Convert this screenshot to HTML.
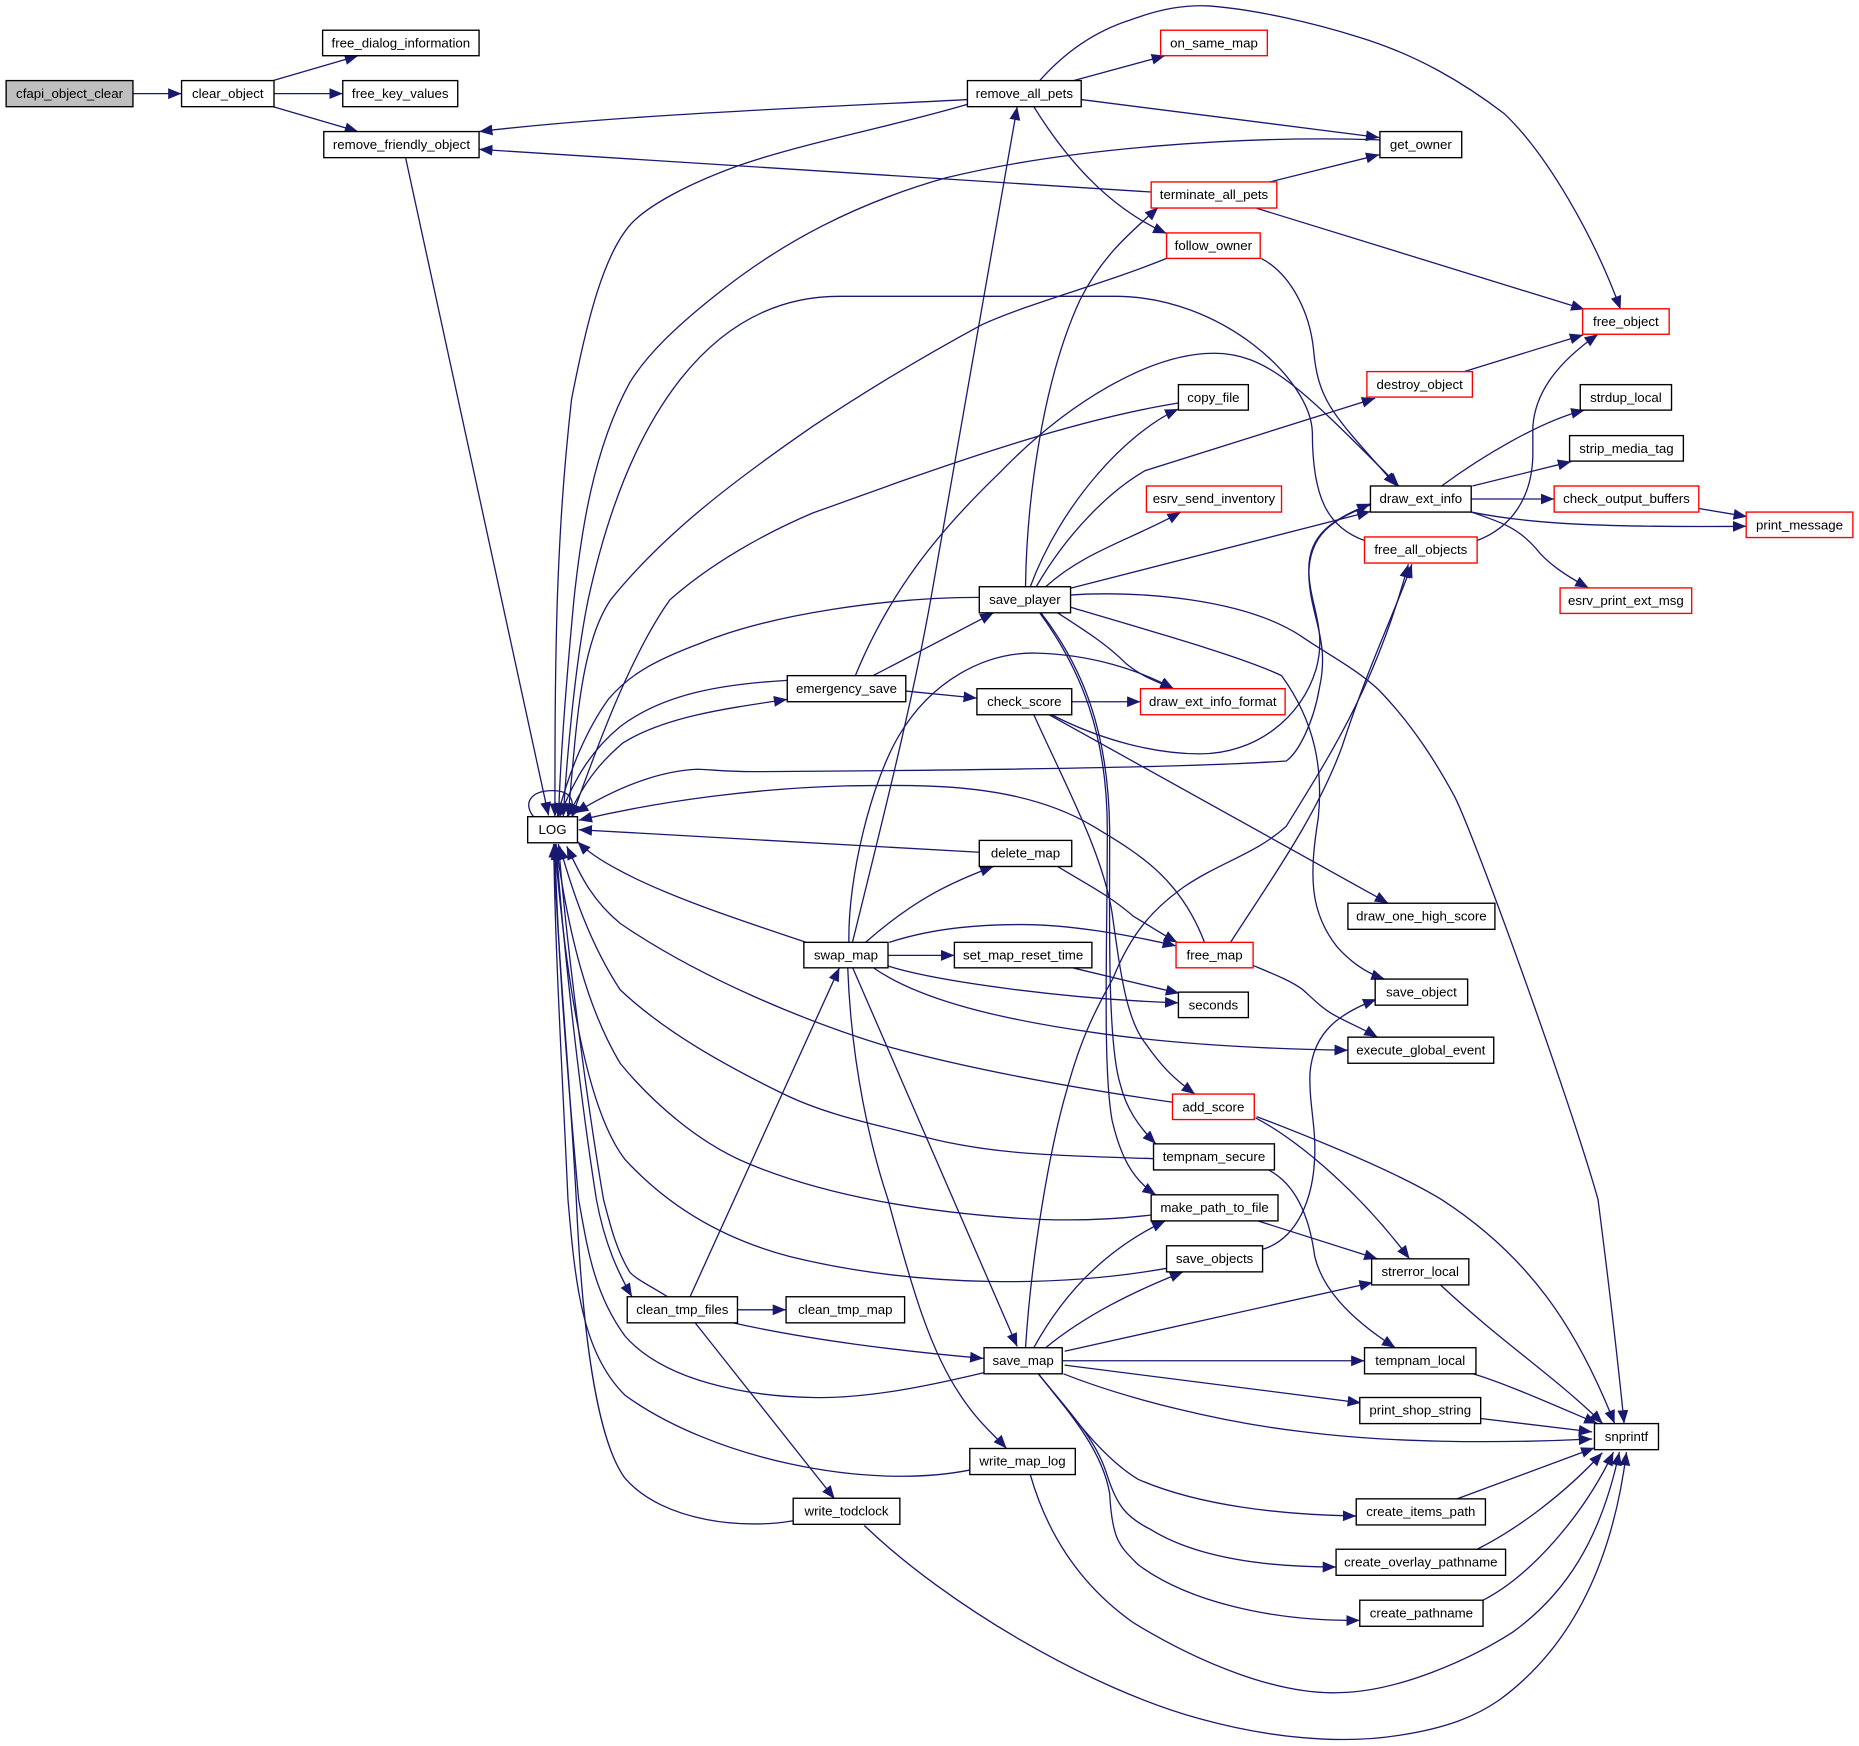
<!DOCTYPE html>
<html><head><meta charset="utf-8"><title>cfapi_object_clear call graph</title>
<style>
html,body{margin:0;padding:0;background:#fff}
svg{display:block}
text{font-family:"Liberation Sans",sans-serif;font-size:11.2px;text-anchor:middle;fill:#000}
rect{fill:#fff;stroke:#000;stroke-width:1.15}
rect.r{stroke:#f00}
rect.g{fill:#bfbfbf}
#e path{fill:none;stroke:#191970;stroke-width:1.1;marker-end:url(#a)}
</style></head><body>
<svg xmlns="http://www.w3.org/2000/svg" width="1859" height="1746" viewBox="0 0 1568 1473">
<defs><marker id="a" markerUnits="userSpaceOnUse" markerWidth="13" markerHeight="11" refX="11.3" refY="4.6" orient="auto"><path d="M0 0L11.3 4.6L0 9.2z" fill="#191970"/></marker></defs>
<rect x="0" y="0" width="1568" height="1473" style="fill:#fff;stroke:none"/>
<g id="e">
<path d="M112 79L153 79"/>
<path d="M230 68L302 47"/>
<path d="M231 79L289 79"/>
<path d="M230 90L302 111"/>
<path d="M342 133L462.6 688"/>
<path d="M816 84C700 90 520 97 404 111"/>
<path d="M971 162L404 126"/>
<path d="M1069 154L1163.5 130.5"/>
<path d="M1060 175.7L1336.6 261"/>
<path d="M912 84L1163.5 116"/>
<path d="M905.5 68L982.7 47"/>
<path d="M877 68C900 42 925 26 953 17C980 7 1000 4 1020 5C1060 8 1110 20 1145 31C1195 46 1235 70 1269 96C1305 130 1345 200 1367 261"/>
<path d="M872 90C900 135 935 175 984 197"/>
<path d="M816 88C760 105 680 120 625 139C580 155 550 172 535 186C510 210 495 270 482 337C475 400 472 450 470 506C468 570 468 630 468 689"/>
<path d="M1164 118C1050 114 900 125 798 150C720 172 660 205 610 244C570 275 545 300 531 323C500 380 490 450 484 506C478 570 473 630 471 689"/>
<path d="M1151 456C1120 445 1107 420 1107 365C1106 320 1030 250 941 250L708 250C600 250 530 350 496 506C485 560 478 640 475 689"/>
<path d="M984 218C930 240 870 255 828 274C780 300 730 330 685 360C620 405 560 450 515 506C488 546 486 620 479 689"/>
<path d="M994 340C900 355 790 395 685 433C645 450 600 475 565 506C530 555 500 640 482 690"/>
<path d="M1064 218C1090 232 1105 265 1108 295C1112 340 1125 350 1178 410"/>
<path d="M721 571C750 500 790 450 843 399C900 340 970 298 1024 298C1070 298 1100 330 1180 410"/>
<path d="M900 497L1156 431.5"/>
<path d="M887 603C930 625 975 636 1012 636C1060 636 1098 605 1110 565C1120 530 1104 510 1104 480C1104 450 1125 438 1156 425"/>
<path d="M1156 426C1125 438 1104 450 1104 485C1105 520 1122 540 1113 580C1108 610 1095 635 1085 642C1000 648 800 650 635 651C610 651 598 649 588 649C565 650 530 658 485 686"/>
<path d="M892 517C920 535 935 545 950 560C962 570 975 575 990 581"/>
<path d="M716 795C715 740 735 660 758 621C785 575 830 550 874 551C920 552 960 565 990 581"/>
<path d="M719 795C745 690 770 590 785 506L858 90"/>
<path d="M865 495C866 420 880 320 911 253C930 215 955 195 977 175"/>
<path d="M869 495C895 425 950 365 994 345"/>
<path d="M874 495C900 450 935 415 966 397L1160 336"/>
<path d="M882 495C915 465 955 455 996 432"/>
<path d="M902 502C960 498 1050 505 1098 537C1120 552 1145 565 1163 582C1195 615 1215 650 1227 672C1245 708 1325 930 1348 1012C1358 1090 1365 1150 1370 1201"/>
<path d="M902 512C980 535 1050 555 1081 570C1110 610 1116 650 1112 690C1104 740 1105 770 1128 799C1138 810 1150 820 1168 826"/>
<path d="M878 517C915 565 935 620 936 700C936 780 934 880 945 915C950 935 960 950 975 965"/>
<path d="M877 517C912 565 934 620 934 700C934 800 930 900 938 945C945 975 955 995 975 1008"/>
<path d="M872 603C900 665 930 720 938 770C945 820 950 860 966 880C980 900 990 910 1008 923"/>
<path d="M885 603L1171 762"/>
<path d="M904 592L962 592"/>
<path d="M764 583L824 589"/>
<path d="M734.5 571L838 517"/>
<path d="M826 719L488 700"/>
<path d="M892 731C920 748 935 755 956 773C968 780 980 788 993 795"/>
<path d="M730 795C770 760 800 745 838 731"/>
<path d="M750 795C790 782 830 780 862 780C900 780 950 788 992 798"/>
<path d="M749 806L805 806"/>
<path d="M905.5 816.7L994.7 838"/>
<path d="M749 815C790 828 900 843 994 846"/>
<path d="M736 816C770 840 830 858 922 871C990 881 1070 885 1137 886"/>
<path d="M719 816L858 1136"/>
<path d="M715 816C718 900 735 970 749 1012C770 1090 785 1140 810 1177C825 1200 840 1212 849 1222"/>
<path d="M582 1094L708 816.5"/>
<path d="M622 1105L663 1105"/>
<path d="M616 1115.5C680 1130 760 1140 829.5 1146"/>
<path d="M585.5 1115L704 1264.5"/>
<path d="M680 795C620 775 560 755 520 733C505 725 495 718 487 710"/>
<path d="M990 930C920 920 830 905 749 883C680 862 590 825 523 779C500 760 490 740 478 714"/>
<path d="M973 977.5C900 975 840 975 779 959C735 948 695 940 659 922C610 898 560 870 523 835C500 800 485 760 472 714"/>
<path d="M971 1025C930 1030 890 1030 855 1027.5C780 1022 700 1010 632 982C590 965 550 930 523 897C495 850 480 790 469 714"/>
<path d="M984 1070C900 1085 780 1088 666 1060C620 1048 570 1025 527 978C490 930 475 800 468 714"/>
<path d="M830 1158C780 1170 730 1180 685 1179C630 1178 560 1165 527 1127C500 1090 495 1050 488 1012C478 900 470 800 468 712"/>
<path d="M819 1240C730 1258 600 1230 527 1177C490 1140 485 1080 479 1012C474 900 468 800 467 712"/>
<path d="M669 1283C630 1290 560 1285 527 1247C500 1210 490 1100 486 1012C480 900 470 800 467 712"/>
<path d="M563 1094C545 1083 535 1078 531 1073C520 1055 515 1035 509 1012C495 930 478 800 471 712"/>
<path d="M469 712C475 800 490 930 503 1012C510 1050 522 1075 533 1094"/>
<path d="M479 689C495 655 510 640 525 627C560 605 610 598 664 590"/>
<path d="M664 574C610 577 560 585 523 613C500 632 485 655 472 689"/>
<path d="M826 504C750 504 650 518 590 543C550 558 530 570 513 590C495 615 480 650 470 689"/>
<path d="M450 689C441 678 447 667 466 667C480 667 488 675 478 689"/>
<path d="M865 1137C870 1060 885 970 900 919C912 875 925 850 939 825C955 785 975 765 999 748C1030 727 1060 720 1085 697C1120 640 1160 580 1188 476"/>
<path d="M1038 795C1070 745 1110 690 1132 630C1155 560 1175 520 1191 476"/>
<path d="M1016 795C995 740 960 720 922 697C860 660 780 662 714 663C640 665 560 675 488 692"/>
<path d="M1057 814.5C1075 822 1090 828 1099 835C1110 845 1115 850 1123 855C1135 862 1150 868 1162 875"/>
<path d="M1246 456C1275 445 1292 420 1293 385L1293 360C1295 330 1315 305 1348 282"/>
<path d="M1235 313.5L1335.5 282.5"/>
<path d="M1216 410C1250 385 1300 355 1336.6 346"/>
<path d="M1242 410L1325.4 389.4"/>
<path d="M1241 421L1311 421"/>
<path d="M1241 432C1290 442 1350 445 1473 444"/>
<path d="M1241 432C1265 440 1280 445 1295 462C1305 475 1320 485 1340 496"/>
<path d="M1433 429L1473.6 435.8"/>
<path d="M1061 1030L1162 1062"/>
<path d="M1059 943C1100 965 1150 1010 1189 1062"/>
<path d="M1060 942C1120 965 1180 990 1216 1012C1290 1060 1330 1120 1362 1201"/>
<path d="M1070 987C1095 1000 1105 1030 1109 1060C1115 1085 1135 1110 1177 1137"/>
<path d="M1065 1054C1095 1045 1108 1010 1109 975C1110 950 1104 930 1105 905C1108 870 1130 855 1161 843"/>
<path d="M1215 1084C1270 1135 1310 1160 1352 1201"/>
<path d="M1239 1158C1265 1165 1310 1185 1347.6 1201"/>
<path d="M1249 1196.7L1343 1208"/>
<path d="M897 1159C950 1180 1030 1200 1100 1208C1170 1217 1260 1218 1343 1214"/>
<path d="M898 1151.7L1148 1183.5"/>
<path d="M896 1148L1151 1148"/>
<path d="M898 1140L1158 1082"/>
<path d="M882 1137C915 1110 955 1090 998 1073"/>
<path d="M872 1137C895 1095 930 1055 983 1030"/>
<path d="M875 1158C905 1195 930 1230 960 1248C1010 1270 1080 1278 1144 1279"/>
<path d="M875 1158C905 1195 925 1215 934 1245C942 1270 950 1280 970 1290C1010 1315 1070 1322 1127 1322"/>
<path d="M875 1158C905 1195 930 1225 936 1260C938 1300 945 1305 960 1320C1000 1350 1070 1368 1147 1367"/>
<path d="M1229 1264.5L1345 1221.5"/>
<path d="M1246 1307C1280 1290 1320 1260 1351.6 1225.6"/>
<path d="M1251 1350C1290 1330 1335 1280 1361 1225"/>
<path d="M869 1244C885 1300 915 1340 956 1369C1015 1405 1080 1430 1130 1428C1180 1427 1240 1400 1276 1377C1320 1345 1350 1300 1366 1225"/>
<path d="M729 1287C800 1355 920 1425 1012 1450C1070 1466 1130 1472 1180 1464C1220 1458 1245 1448 1265 1434C1325 1390 1360 1320 1372 1225"/>
</g>
<rect class="g" x="5" y="68" width="107" height="22"/><text x="58.5" y="82.5">cfapi_object_clear</text>
<rect x="153" y="68" width="78" height="22"/><text x="192" y="82.5">clear_object</text>
<rect x="272" y="25.5" width="132" height="21.5"/><text x="338" y="40">free_dialog_information</text>
<rect x="289" y="68" width="97" height="22"/><text x="337.5" y="82.5">free_key_values</text>
<rect x="273" y="111" width="131" height="22"/><text x="338.5" y="125.5">remove_friendly_object</text>
<rect x="816" y="68" width="96" height="22"/><text x="864" y="82.5">remove_all_pets</text>
<rect class="r" x="979" y="25.5" width="90" height="21.5"/><text x="1024" y="40">on_same_map</text>
<rect x="1164" y="111" width="69" height="22"/><text x="1198.5" y="125.5">get_owner</text>
<rect class="r" x="971" y="153.5" width="106" height="22"/><text x="1024" y="168">terminate_all_pets</text>
<rect class="r" x="984" y="196.5" width="79" height="21.5"/><text x="1023.5" y="211">follow_owner</text>
<rect class="r" x="1335" y="260.5" width="73" height="21.5"/><text x="1371.5" y="275">free_object</text>
<rect class="r" x="1153" y="313.5" width="89" height="21.5"/><text x="1197.5" y="328">destroy_object</text>
<rect x="994" y="324.5" width="59" height="21.5"/><text x="1023.5" y="339">copy_file</text>
<rect x="1333" y="324.5" width="77" height="21.5"/><text x="1371.5" y="339">strdup_local</text>
<rect x="1324" y="367.5" width="96" height="21.5"/><text x="1372" y="382">strip_media_tag</text>
<rect class="r" x="967" y="410" width="114" height="22"/><text x="1024" y="424.5">esrv_send_inventory</text>
<rect x="1156" y="410" width="85" height="22"/><text x="1198.5" y="424.5">draw_ext_info</text>
<rect class="r" x="1311" y="410" width="122" height="22"/><text x="1372" y="424.5">check_output_buffers</text>
<rect class="r" x="1473" y="432" width="90" height="21.5"/><text x="1518" y="446.5">print_message</text>
<rect class="r" x="1151" y="453" width="95" height="22"/><text x="1198.5" y="467.5">free_all_objects</text>
<rect x="826" y="495" width="77" height="22"/><text x="864.5" y="509.5">save_player</text>
<rect class="r" x="1316" y="496" width="111" height="21.5"/><text x="1371.5" y="510.5">esrv_print_ext_msg</text>
<rect x="664" y="570" width="100" height="22"/><text x="714" y="584.5">emergency_save</text>
<rect x="824" y="581" width="80" height="22"/><text x="864" y="595.5">check_score</text>
<rect class="r" x="962" y="581" width="122" height="22"/><text x="1023" y="595.5">draw_ext_info_format</text>
<rect x="445" y="689" width="42" height="22"/><text x="466" y="703.5">LOG</text>
<rect x="826" y="709" width="78" height="22"/><text x="865" y="723.5">delete_map</text>
<rect x="1137" y="762" width="124" height="22"/><text x="1199" y="776.5">draw_one_high_score</text>
<rect x="678" y="795" width="71" height="21.5"/><text x="713.5" y="809.5">swap_map</text>
<rect x="805" y="795" width="116" height="21.5"/><text x="863" y="809.5">set_map_reset_time</text>
<rect class="r" x="992" y="795" width="65" height="21.5"/><text x="1024.5" y="809.5">free_map</text>
<rect x="1160" y="826" width="78" height="22"/><text x="1199" y="840.5">save_object</text>
<rect x="994" y="837" width="59" height="21.5"/><text x="1023.5" y="851.5">seconds</text>
<rect x="1137" y="875" width="123" height="22"/><text x="1198.5" y="889.5">execute_global_event</text>
<rect class="r" x="989" y="923" width="69" height="21.5"/><text x="1023.5" y="937.5">add_score</text>
<rect x="973" y="965" width="102" height="22"/><text x="1024" y="979.5">tempnam_secure</text>
<rect x="971" y="1008" width="107" height="22"/><text x="1024.5" y="1022.5">make_path_to_file</text>
<rect x="984" y="1051" width="81" height="22"/><text x="1024.5" y="1065.5">save_objects</text>
<rect x="1157" y="1062" width="82" height="22"/><text x="1198" y="1076.5">strerror_local</text>
<rect x="529" y="1094" width="93" height="22"/><text x="575.5" y="1108.5">clean_tmp_files</text>
<rect x="663" y="1094" width="100" height="22"/><text x="713" y="1108.5">clean_tmp_map</text>
<rect x="830" y="1137" width="66" height="22"/><text x="863" y="1151.5">save_map</text>
<rect x="1151" y="1137" width="94" height="22"/><text x="1198" y="1151.5">tempnam_local</text>
<rect x="1147" y="1179" width="102" height="22"/><text x="1198" y="1193.5">print_shop_string</text>
<rect x="1345" y="1201" width="54" height="22"/><text x="1372" y="1215.5">snprintf</text>
<rect x="818" y="1222" width="89" height="22"/><text x="862.5" y="1236.5">write_map_log</text>
<rect x="669" y="1264" width="90" height="22"/><text x="714" y="1278.5">write_todclock</text>
<rect x="1144" y="1264.5" width="109" height="22"/><text x="1198.5" y="1279">create_items_path</text>
<rect x="1127" y="1307" width="143" height="22"/><text x="1198.5" y="1321.5">create_overlay_pathname</text>
<rect x="1147" y="1350" width="104" height="22"/><text x="1199" y="1364.5">create_pathname</text>
</svg>
</body></html>
